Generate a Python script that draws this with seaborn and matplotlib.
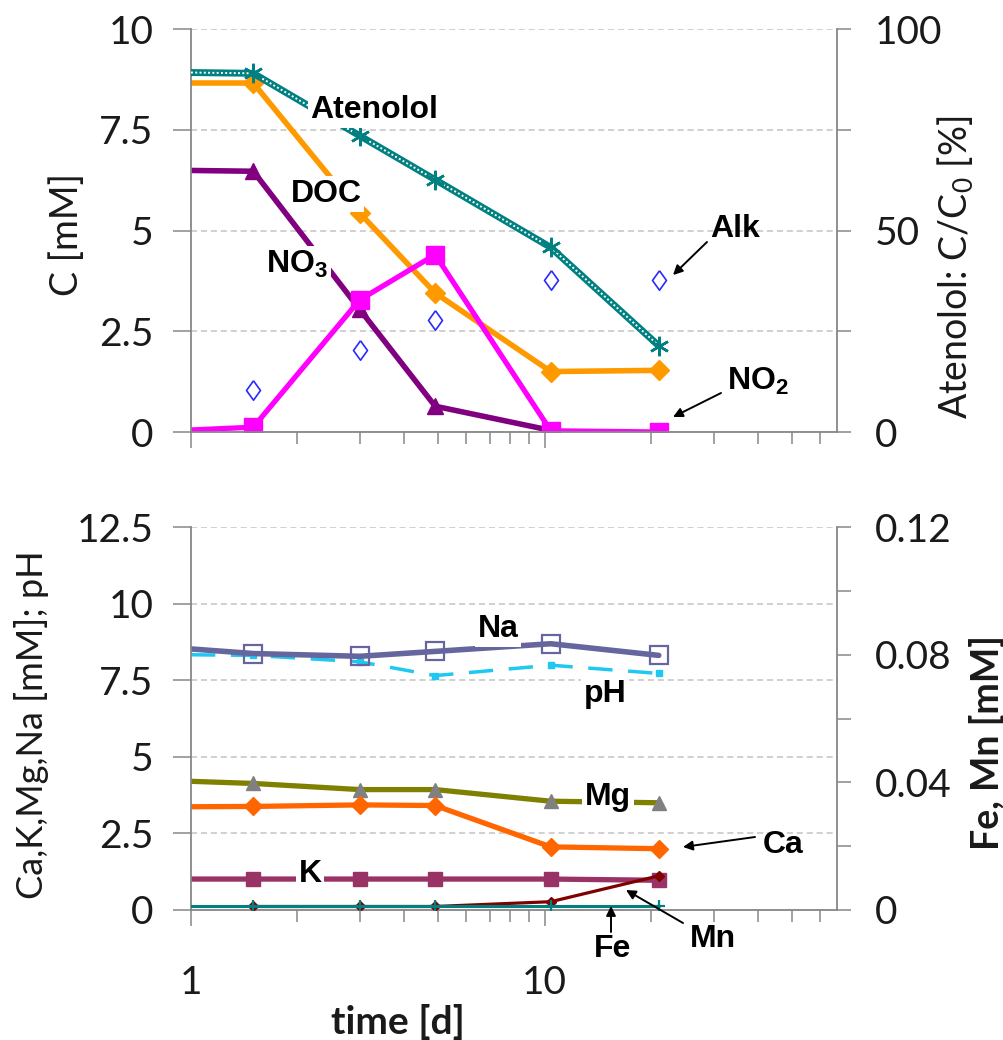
import matplotlib
matplotlib.use("Agg")
import matplotlib.pyplot as plt
import seaborn as sns

# ---------------- data ----------------
time_d = [1.0, 1.5, 3.0, 4.9, 10.4, 21.0]

atenolol_pct = [89.2, 89.0, 73.5, 62.6, 45.8, 21.4]
doc_mM = [8.66, 8.66, 5.43, 3.45, 1.50, 1.53]
no3_mM = [6.49, 6.47, 3.04, 0.64, 0.04]          # time_d[:5]
no2_mM = [0.05, 0.12, 3.28, 4.40, 0.03, 0.00]
alk_mM = [1.03, 2.03, 2.77, 3.76, 3.76]          # time_d[1:]

na_mM = [8.52, 8.37, 8.28, 8.44, 8.69, 8.31]
ph_val = [8.33, 8.31, 8.10, 7.65, 7.99, 7.72]
mg_mM = [4.20, 4.13, 3.93, 3.93, 3.55, 3.50]
ca_mM = [3.37, 3.38, 3.43, 3.41, 2.06, 2.00]
k_mM = [1.01, 1.01, 1.01, 1.01, 1.01, 0.97]
fe_mM = [0.0013, 0.0013, 0.0013, 0.0013, 0.0013, 0.0013]
mn_mM = [0.0011, 0.0011, 0.0011, 0.0026, 0.0107]  # time_d[1:]

top_left_ticks = [0, 2.5, 5, 7.5, 10]
top_left_labels = ["0", "2.5", "5", "7.5", "10"]
top_right_ticks = [0, 25, 50, 75, 100]
top_right_labels = ["0", "", "50", "", "100"]
bot_left_ticks = [0, 2.5, 5, 7.5, 10, 12.5]
bot_left_labels = ["0", "2.5", "5", "7.5", "10", "12.5"]
bot_right_ticks = [0, 0.02, 0.04, 0.06, 0.08, 0.10, 0.12]
bot_right_labels = ["0", "", "0.04", "", "0.08", "", "0.12"]
x_major = [1, 10]
x_major_labels = ["1", "10"]
x_minor = [2, 3, 4, 5, 6, 7, 8, 9, 20, 30, 40, 50, 60]

# ---------------- style ----------------
sns.set_theme(style="white")
plt.rcParams["font.family"] = ["Lato", "DejaVu Sans"]
plt.rcParams["mathtext.default"] = "regular"

W, H = 1004, 1040
fig = plt.figure(figsize=(W / 100, H / 100), dpi=100)
ax1 = fig.add_axes([191 / W, 1 - 432 / H, 646 / W, 403 / H])
ax1r = ax1.twinx()
ax2 = fig.add_axes([191 / W, 1 - 910 / H, 646 / W, 383 / H])
ax2r = ax2.twinx()

GRAY = "#878787"
TXT = "#1a1a1a"


def line(ax, x, y, color, lw, marker=None, ms=0, mfc=None, mec=None, mew=1.0,
         markevery=None, ls="-", zorder=2):
    sns.lineplot(x=x, y=y, ax=ax, color=color, lw=lw, ls=ls, marker=marker, ms=ms,
                 mfc=color if mfc is None else mfc,
                 mec=color if mec is None else mec, mew=mew,
                 markevery=markevery, legend=False, estimator=None, sort=False,
                 zorder=zorder)


diamond = [(0, 1), (0.72, 0), (0, -1), (-0.72, 0), (0, 1)]
later = slice(1, None)

# ---- top panel ----
line(ax1, time_d[:5], no3_mM, "#800080", 4.0, "^", 11.5, markevery=later)
line(ax1, time_d, doc_mM, "#ff9900", 4.0, "D", 10, markevery=later)
line(ax1, time_d, no2_mM, "#ff00ff", 3.8, "s", 12.5, markevery=later)
line(ax1, time_d[1:], alk_mM, "#2a2aff", 0, diamond, 14, mfc="none", mew=1.2, ls="none")

line(ax1r, time_d, atenolol_pct, "#008080", 5.0)
line(ax1r, time_d, atenolol_pct, "white", 1.4, ls=(0, (1, 1.2)))
line(ax1r, time_d[1:], atenolol_pct[1:], "#008080", 0, (6, 2, 0), 14, mew=1.8, ls="none")

# ---- bottom panel ----
line(ax2, time_d, ph_val, "#1ec8f0", 2.5, "s", 5, markevery=later, ls=(0, (7, 4.5)))
line(ax2, time_d, na_mM, "#66669e", 4.0, "s", 12.5, mfc="none", mew=1.6, markevery=later)
line(ax2, time_d, mg_mM, "#808000", 3.8, "^", 10.5, mfc="#808080", mec="#808080", markevery=later)
line(ax2, time_d, ca_mM, "#ff6600", 3.8, "D", 9.5, markevery=later)
line(ax2, time_d, k_mM, "#993366", 3.8, "s", 10.5, markevery=later)

line(ax2r, time_d[1:], mn_mM, "#800000", 2.3, "D", 5.5)
line(ax2r, time_d, fe_mM, "#008080", 2.2, "+", 9, mew=1.6, markevery=later)

# ---- axes cosmetics ----
for ax in (ax1, ax2):
    ax.set_xscale("log")
    ax.set_xlim(1, 67)
    ax.set_xticks(x_major)
    ax.set_xticks(x_minor, minor=True)
    ax.tick_params(axis="x", which="major", direction="out", length=11.5, width=1.1,
                   color=GRAY, labelsize=28, labelcolor=TXT, pad=28, bottom=True)
    ax.tick_params(axis="x", which="minor", direction="out", length=8.5, width=1.1,
                   color=GRAY, bottom=True, labelbottom=False)
    ax.tick_params(axis="y", direction="out", length=13, width=1.1, color=GRAY,
                   labelsize=28, labelcolor=TXT, pad=14, left=True)
    ax.yaxis.grid(True, color="#c4c4c4", lw=1.1, ls=(0, (4, 2.5)))
    ax.xaxis.grid(False)
    ax.set_axisbelow(True)
    for s in ("top", "right"):
        ax.spines[s].set_visible(False)
    for s in ("left", "bottom"):
        ax.spines[s].set_color(GRAY)
        ax.spines[s].set_linewidth(1.3)
    ax.set_xlabel("")
    ax.set_ylabel("")

ax1.set_xticklabels(["", ""])
ax2.set_xticklabels(x_major_labels)

ax1.set_ylim(0, 10)
ax1.set_yticks(top_left_ticks, labels=top_left_labels)
ax2.set_ylim(0, 12.5)
ax2.set_yticks(bot_left_ticks, labels=bot_left_labels)

ax1r.set_ylim(0, 100)
ax1r.set_yticks(top_right_ticks, labels=top_right_labels)
ax2r.set_ylim(0, 0.12)
ax2r.set_yticks(bot_right_ticks, labels=bot_right_labels)
for ax in (ax1r, ax2r):
    ax.set_xlim(1, 67)
    ax.grid(False)
    for s in ("top", "left", "bottom"):
        ax.spines[s].set_visible(False)
    ax.spines["right"].set_color(GRAY)
    ax.spines["right"].set_linewidth(1.3)
    ax.tick_params(axis="y", direction="out", length=10, width=1.1, color=GRAY,
                   labelsize=28, labelcolor=TXT, pad=17, right=True)
    ax.set_ylabel("")
    ax.set_xlabel("")


def fx(px):
    return px / W


def fy(py):
    return 1 - py / H


# ---- axis titles ----
fig.text(fx(67), fy(234), "C [mM]", rotation=90, ha="center", va="center",
         fontsize=27, color=TXT)
fig.text(fx(955), fy(267), "Atenolol: C/C$_0$ [%]", rotation=90, ha="center",
         va="center", fontsize=27, color=TXT)
fig.text(fx(32), fy(725), "Ca,K,Mg,Na [mM]; pH", rotation=90, ha="center",
         va="center", fontsize=26, color=TXT)
fig.text(fx(987), fy(743), "Fe, Mn [mM]", rotation=90, ha="center", va="center",
         fontsize=27, color=TXT, fontweight="bold")
fig.text(fx(398), fy(1034), "time [d]", ha="center", va="baseline", fontsize=28,
         color=TXT, fontweight="bold")

# ---- series labels ----
lab_font = dict(family=["Liberation Sans", "DejaVu Sans"], fontsize=23,
                fontweight="bold", color="black", ha="center", va="baseline")
box = dict(boxstyle="square,pad=0.08", fc="white", ec="none")
labels = [
    ("Atenolol", 374, 118, box),
    ("DOC", 326, 202, box),
    ("NO$_3$", 297, 273, box),
    ("Alk", 735, 237, None),
    ("NO$_2$", 758, 390, None),
    ("Na", 498, 637, box),
    ("pH", 605, 702, box),
    ("Mg", 608, 805, box),
    ("Ca", 783, 853, None),
    ("K", 310, 882, box),
    ("Fe", 613, 957, None),
    ("Mn", 713, 947, None),
]
for txt, x, y, b in labels:
    fig.text(fx(x), fy(y), txt, bbox=b, zorder=5, **lab_font)

arrows = [
    (ax1r, (707, 242), (673, 275)),
    (ax1r, (721, 393), (673, 417)),
    (ax2r, (755, 837), (683, 847)),
    (ax2r, (611, 932), (611, 906)),
    (ax2r, (683, 923), (626, 890)),
]
for ax, tail, head in arrows:
    ax.annotate("", xy=(fx(head[0]), fy(head[1])), xytext=(fx(tail[0]), fy(tail[1])),
                xycoords="figure fraction", textcoords="figure fraction",
                arrowprops=dict(arrowstyle="-|>", color="black", lw=1.4,
                                mutation_scale=14, shrinkA=0, shrinkB=0))

fig.savefig("out.png", dpi=100)
